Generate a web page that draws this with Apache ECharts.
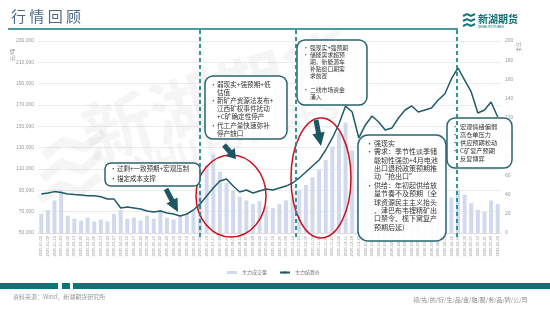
<!DOCTYPE html>
<html>
<head>
<meta charset="utf-8">
<script src="https://cdn.jsdelivr.net/npm/echarts@6/dist/echarts.min.js"></script>
<style>
html,body{margin:0;padding:0;background:#fff;}
#main{width:550px;height:310px;}
</style>
</head>
<body>
<div id="main"></div>
<script>
// 周度日期(横轴)
var dates = ['2025-01-02','2025-01-09','2025-01-16','2025-01-23','2025-02-06','2025-02-13','2025-02-20','2025-02-27',
	'2025-03-06','2025-03-13','2025-03-20','2025-03-27','2025-04-03','2025-04-10','2025-04-17','2025-04-24',
	'2025-05-08','2025-05-15','2025-05-22','2025-05-29','2025-06-05','2025-06-12','2025-06-19','2025-06-26',
	'2025-07-03','2025-07-10','2025-07-17','2025-07-24','2025-07-31','2025-08-07','2025-08-14','2025-08-21','2025-08-28',
	'2025-09-04','2025-09-11','2025-09-18','2025-09-25','2025-10-09','2025-10-16','2025-10-23','2025-10-30',
	'2025-11-06','2025-11-13','2025-11-20','2025-11-27','2025-12-04','2025-12-11','2025-12-18','2025-12-25',
	'2026-01-05','2026-01-12','2026-01-19','2026-01-26','2026-02-02','2026-02-09','2026-02-26',
	'2026-03-05','2026-03-12','2026-03-19','2026-03-26','2026-04-02','2026-04-09','2026-04-16','2026-04-23','2026-04-30',
	'2026-05-07','2026-05-14','2026-05-21','2026-05-28','2026-06-04'];

// 主力结算价 元/吨
var price = [86500, 87500, 88800, 88000, 86500, 86000, 85600, 85000, 84900, 84000, 81900, 81800,
	73400, 74300, 73400, 72500, 70600, 69700, 70600, 68800, 67800, 66000, 67800, 71600,
	77200, 84700, 92200, 98700, 100600, 94000, 88400, 90300, 87500, 89400, 91200, 90300,
	92200, 94000, 96900, 101600, 107200, 112800, 118400, 127800, 139100, 152200, 169100, 163400,
	139100, 151300, 159700, 154100, 146600, 148400, 157800, 165300, 169100, 163400, 165300, 167200,
	174700, 180300, 194400, 204700, 193400, 182200, 162500, 165300, 172800, 158800];

// 主力成交量 万手
var volume = [20, 24, 34, 45, 18, 15, 13, 16, 12, 14,
	12, 20, 24, 15, 16, 13, 18, 15, 24, 16,
	14, 18, 20, 24, 40, 70, 82, 64, 52, 44,
	38, 34, 30, 33, 28, 26, 30, 34, 38, 45,
	50, 58, 66, 76, 90, 105, 115, 86, 64, 55,
	50, 46, 42, 44, 38, 36, 40, 34, 31, 27,
	26, 30, 37, 45, 40, 31, 24, 22, 34, 30];

var seriesNames = ['主力成交量', '主力结算价'];

var FONT = '"Noto Sans CJK SC"';
var TEAL = '#2a6470';
var WM = 'rgba(160,160,160,0.11)';

// 块状箭头
function arrowPts(x1, y1, x2, y2, w){
	var dx = x2 - x1, dy = y2 - y1, L = Math.sqrt(dx*dx + dy*dy);
	var ux = dx/L, uy = dy/L, nx = -uy, ny = ux;
	var hl = L*0.5, hw = w*1.25;
	var bx = x2 - ux*hl, by = y2 - uy*hl;
	return [[x1+nx*w/2, y1+ny*w/2], [bx+nx*w/2, by+ny*w/2], [bx+nx*hw, by+ny*hw], [x2, y2],
		[bx-nx*hw, by-ny*hw], [bx-nx*w/2, by-ny*w/2], [x1-nx*w/2, y1-ny*w/2]];
}

function box(x, y, w, h, r){
	return {type:'rect', z:10, shape:{x:x, y:y, width:w, height:h, r:r},
		style:{fill:'rgba(255,255,255,0.92)', stroke:TEAL, lineWidth:1.5}};
}
function txt(x, y, s, size, lh, color){
	return {type:'text', z:11, x:x, y:y, style:{text:s, fill:color || '#333',
		font:size + 'px ' + FONT, lineHeight:lh, textVerticalAlign:'top'}};
}

var chart = echarts.init(document.getElementById('main'));

var option = {
	animation: false,
	grid: {left:38, right:49, top:41, bottom:77},
	legend: {
		data: seriesNames,
		left: 222, top: 265,
		itemWidth: 10, itemHeight: 3, itemGap: 12,
		textStyle: {fontSize:5, color:'#777', fontFamily:FONT}
	},
	xAxis: {
		type: 'category',
		data: dates,
		axisTick: {show:false},
		axisLine: {lineStyle:{color:'#dcdcdc'}},
		axisLabel: {rotate:90, interval:0, fontSize:4, color:'#999', margin:3}
	},
	yAxis: [{
		type: 'value', min:50000, max:230000, interval:20000,
		axisLine: {show:false}, axisTick: {show:false},
		axisLabel: {fontSize:5, color:'#999', margin:4,
			formatter: function(v){ return echarts.format.addCommas(v); }},
		splitLine: {lineStyle:{color:'#ececec'}}
	},{
		type: 'value', min:0, max:200, interval:20,
		axisLine: {show:false}, axisTick: {show:false},
		axisLabel: {fontSize:5, color:'#999', margin:4},
		splitLine: {show:false}
	}],
	series: [{
		name: seriesNames[0],
		type: 'bar',
		yAxisIndex: 1,
		data: volume,
		barCategoryGap: '40%',
		itemStyle: {color:'#d0d9ee'}
	},{
		name: seriesNames[1],
		type: 'line',
		yAxisIndex: 0,
		data: price,
		symbol: 'none',
		lineStyle: {color:'#1f5b69', width:1.5},
		itemStyle: {color:'#1f5b69'}
	}],
	graphic: [
		// 水印
		{type:'text', z:1, x:95, y:172, rotation:0.3, style:{text:'新湖期货', fill:WM,
			font:'bold 70px ' + FONT, textVerticalAlign:'bottom'}},
		{type:'text', z:1, x:112, y:196, rotation:0.3, style:{text:'XINHU FUTURES', fill:WM,
			font:'bold 32px Roboto', textVerticalAlign:'bottom'}},
		{type:'polyline', z:1, shape:{points:[[40,200],[60,185],[80,192],[100,176]]}, style:{stroke:WM, lineWidth:9, fill:null}},
		{type:'polyline', z:1, shape:{points:[[42,178],[62,163],[82,170],[102,154]]}, style:{stroke:WM, lineWidth:9, fill:null}},
		{type:'polyline', z:1, shape:{points:[[44,156],[64,141],[84,148],[104,132]]}, style:{stroke:WM, lineWidth:9, fill:null}},

		// 标题
		{type:'text', x:11, y:16, style:{text:'行 情 回 顾', fill:'#4a6a86', font:'15px ' + FONT, textVerticalAlign:'middle'}},
		{type:'line', shape:{x1:8, y1:29, x2:458, y2:29}, style:{stroke:'#12787c', lineWidth:1.5}},
		// logo
		{type:'polyline', shape:{points:[[463,16],[467,14],[471,16],[475,14]]}, style:{stroke:'#12787c', lineWidth:2, fill:null}},
		{type:'polyline', shape:{points:[[463,21],[467,19],[471,21],[475,19]]}, style:{stroke:'#12787c', lineWidth:2, fill:null}},
		{type:'polyline', shape:{points:[[463,26],[467,24],[471,26],[475,24]]}, style:{stroke:'#12787c', lineWidth:2, fill:null}},
		{type:'text', x:478, y:19, style:{text:'新湖期货', fill:'#0f6f73', font:'bold 10px ' + FONT, textVerticalAlign:'middle'}},
		{type:'text', x:478, y:27, style:{text:'XINHU FUTURES', fill:'#0f6f73', font:'3.5px Roboto', textVerticalAlign:'middle'}},

		// 单位
		{type:'text', x:12, y:55, rotation:Math.PI/2, style:{text:'元/吨', fill:'#888', font:'5px ' + FONT, textAlign:'center', textVerticalAlign:'middle'}},
		{type:'text', x:519, y:47, rotation:-Math.PI/2, style:{text:'万手', fill:'#888', font:'5px ' + FONT, textAlign:'center', textVerticalAlign:'middle'}},

		// 红圈
		{type:'ellipse', z:9, shape:{cx:231, cy:196, rx:35, ry:41}, style:{fill:null, stroke:'#c8141e', lineWidth:1.5}},
		{type:'ellipse', z:9, shape:{cx:321, cy:178, rx:30, ry:60}, style:{fill:null, stroke:'#c8141e', lineWidth:1.5}},

		// 文本框
		box(105, 163, 95, 23, 6),
		txt(110, 164, '•\n•', 6.5, 10),
		txt(117, 164, '过剩+一致预期+宏观压制\n锚定成本支撑', 6.5, 10),

		box(205, 76, 82, 63, 8),
		txt(210, 80, '•\n\n•\n\n\n•\n', 6.6, 8.2),
		txt(217, 80, '弱现实+强预期+低\n估值\n新矿产资源法发布+\n江西矿权事件扰动\n+C矿确定性停产\n代工产量快速弥补\n停产缺口', 6.6, 8.2),

		box(297, 40, 70, 65, 8),
		txt(303, 44, '•\n•\n\n\n\n\n•\n', 5.8, 7),
		txt(310, 44, '强现实+强预期\n储能需求超预\n期，新能源车\n补贴窗口期需\n求前置\n\n二线市场资金\n涌入', 5.8, 7),

		box(358, 135, 88, 106, 10),
		txt(366, 139, '•\n•\n\n\n\n•\n\n\n\n\n', 7, 8.4),
		txt(374, 139, '强现实\n需求：季节性淡季储\n能韧性强劲+4月电池\n出口退税政策预期推\n动“抢出口”\n供给：年初起供给放\n量节奏不及预期（全\n球资源民主主义抬头\n、津巴布韦锂精矿出\n口禁令、枧下窝复产\n预期后延）', 7, 8.4),

		box(447, 118, 65, 50, 8),
		txt(452, 123, '•\n•\n•\n•\n', 6.2, 8),
		txt(460, 123, '宏观情绪偏弱\n高仓单压力\n供应预期松动\nC矿复产预期\n反复博弈', 6.2, 8),

		// 箭头
		{type:'polygon', z:12, shape:{points:arrowPts(166, 189, 178, 212, 5)}, style:{fill:'#1d5663'}},
		{type:'polygon', z:12, shape:{points:arrowPts(224, 145, 236, 159, 5)}, style:{fill:'#1d5663'}},
		{type:'polygon', z:12, shape:{points:arrowPts(316, 120, 321, 146, 5)}, style:{fill:'#1d5663'}},

		// 分段虚线
		{type:'line', z:13, shape:{x1:200, y1:30, x2:200, y2:240}, style:{stroke:'#1e8a8e', lineWidth:1.8, lineDash:[4,3]}},
		{type:'line', z:13, shape:{x1:296, y1:30, x2:296, y2:240}, style:{stroke:'#1e8a8e', lineWidth:1.8, lineDash:[4,3]}},
		{type:'line', z:13, shape:{x1:457, y1:30, x2:457, y2:240}, style:{stroke:'#1e8a8e', lineWidth:1.8, lineDash:[4,3]}},

		// 底部
		{type:'rect', shape:{x:0, y:283, width:58, height:6}, style:{fill:'#0b7478'}},
		{type:'rect', shape:{x:62, y:283, width:8, height:6}, style:{fill:'#0b7478'}},
		{type:'rect', shape:{x:73, y:283, width:477, height:6}, style:{fill:'#0b7478'}},
		{type:'text', x:13, y:297, style:{text:'资料来源：Wind，新湖期货研究所', fill:'#999', font:'6px ' + FONT, textVerticalAlign:'middle'}},
		{type:'text', x:413, y:300, style:{text:'领/先/的/衍/生/品/金/融/服/务/品/牌/公/司', fill:'#888', font:'6px ' + FONT, textVerticalAlign:'middle'}}
	]
};

chart.setOption(option);
</script>
</body>
</html>
